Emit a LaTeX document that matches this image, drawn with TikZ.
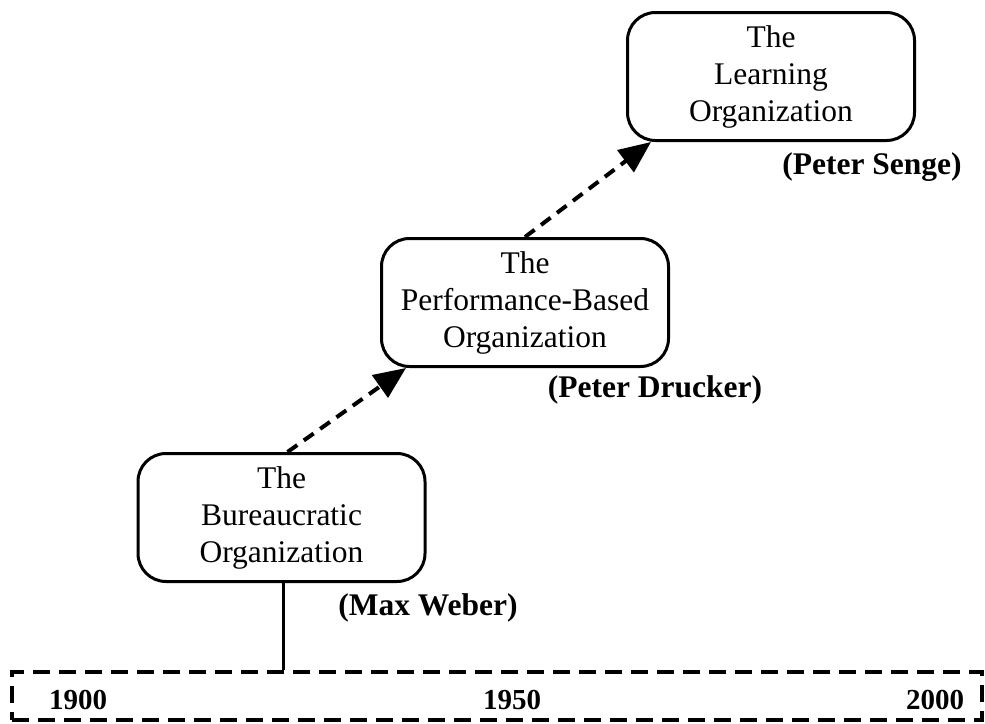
\documentclass[tikz,border=0pt]{standalone}
\usepackage{fontspec}
\setmainfont{Liberation Serif}
\usetikzlibrary{arrows.meta}
\begin{document}
\begin{tikzpicture}[x=1pt,y=-1pt,
  orgbox/.style={draw, line width=3pt, rounded corners=28pt, align=center,
    minimum width=287pt, minimum height=128pt, inner sep=0pt,
    font=\fontsize{31.5}{37}\selectfont},
  author/.style={font=\fontsize{31.5}{37}\selectfont\bfseries, inner sep=0pt},
  year/.style={font=\fontsize{29}{34}\selectfont\bfseries, inner sep=0pt},
  flow/.style={line width=4pt, dash pattern=on 12pt off 8pt,
    -{Triangle[length=32pt,width=27pt]}},
  era/.style={draw, line width=3.5pt, dash pattern=on 17pt off 9pt,
    minimum width=970pt, minimum height=48pt, inner sep=0pt}]
\useasboundingbox (0,0) rectangle (985,723);

% the three organisational models
\node[orgbox] (B) at (281.5,517.5) {The\\Bureaucratic\\Organization};
\node[orgbox] (P) at (525,302.5) {The\\Performance-Based\\Organization};
\node[orgbox] (L) at (771,76.5) {The\\Learning\\Organization};

% their authors
\node[author] (bw) at (428,608) {(Max Weber)};
\node[author] (pd) at (655,390) {(Peter Drucker)};
\node[author] (ps) at (872,167) {(Peter Senge)};

% time axis
\node[era] (T) at (497,696) {};
\node[year] (y1) at (78,700) {1900};
\node[year] (y2) at (512,700) {1950};
\node[year] (y3) at (935,700) {2000};

% links
\draw[line width=3pt] ([xshift=1.5pt]B.south) coordinate (v) -- (v |- T.north);
\draw[flow] ([xshift=6pt]B.north) -- ([xshift=26pt]P.south west);
\draw[flow] (P.north) -- ([xshift=25pt]L.south west);
\end{tikzpicture}
\end{document}
